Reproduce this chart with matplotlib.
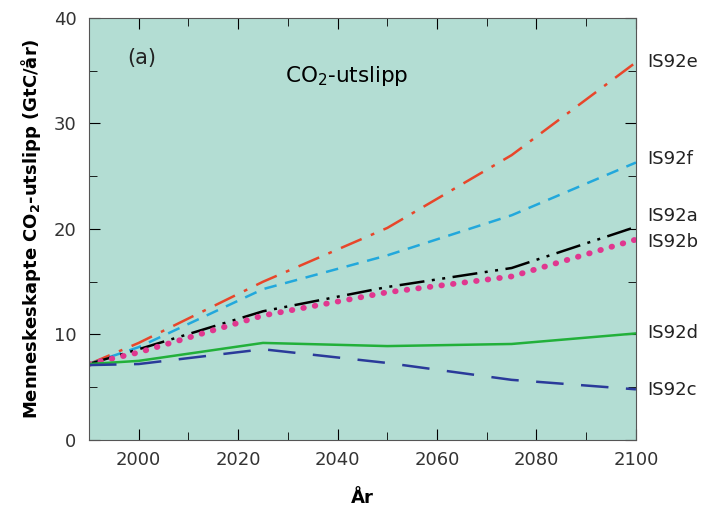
import matplotlib
matplotlib.use('Agg')
import matplotlib.pyplot as plt

plt.rcParams['font.family'] = ['DejaVu Sans']
plt.rcParams['mathtext.fontset'] = 'dejavusans'

# scenario data (GtC/år)
years = [1990, 2000, 2025, 2050, 2075, 2100]
is92e = [7.2, 9.2, 15.0, 20.1, 27.0, 35.8]
is92f = [7.2, 8.8, 14.3, 17.5, 21.3, 26.3]
is92a = [7.2, 8.6, 12.2, 14.5, 16.3, 20.2]
is92b = [7.2, 8.3, 11.8, 14.0, 15.5, 19.0]
is92d = [7.2, 7.5, 9.2, 8.9, 9.1, 10.1]
is92c = [7.1, 7.2, 8.6, 7.3, 5.7, 4.8]

names = ['IS92e', 'IS92f', 'IS92a', 'IS92b', 'IS92d', 'IS92c']
label_shift = [0.0, 0.3, 1.0, -0.2, 0.0, -0.1]

bg = '#b3ddd3'

fig = plt.figure(figsize=(7.03, 5.08), dpi=100)
ax = fig.add_axes([0.1266, 0.1339, 0.778, 0.8307])
ax.set_facecolor(bg)

ax.plot(years, is92e, color='#e8462a', lw=1.8, dashes=(9, 4, 1.5, 4))
ax.plot(years, is92f, color='#22a8dc', lw=1.8, dashes=(5, 3.5))
ax.plot(years, is92a, color='black', lw=1.8, dashes=(10, 3, 1.2, 3, 1.2, 3))
ax.plot(years, is92b, color='#e0378f', lw=4.2, dashes=(0.1, 1.9),
        dash_capstyle='round')
ax.plot(years, is92d, color='#22b03a', lw=1.8)
ax.plot(years, is92c, color='#2a3a9a', lw=1.8, dashes=(11, 7))

ends = [is92e[-1], is92f[-1], is92a[-1], is92b[-1], is92d[-1], is92c[-1]]
for name, v, s in zip(names, ends, label_shift):
    ax.text(2102.2, v + s, name, fontsize=13, color='#222222',
            va='center', ha='left', clip_on=False)

ax.set_xlim(1990, 2100)
ax.set_ylim(0, 40)
ax.set_xticks(range(2000, 2101, 20))
ax.set_xticks(range(2000, 2101, 10), minor=True)
ax.set_yticks(range(0, 41, 10))
ax.set_yticks(range(0, 41, 5), minor=True)
ax.tick_params(which='both', direction='in', top=True, right=True,
               labelsize=13, labelcolor='#333333')
ax.tick_params(axis='x', pad=8)
ax.tick_params(axis='y', pad=9)
ax.tick_params(which='major', length=8)
ax.tick_params(which='minor', length=6)
for sp in ax.spines.values():
    sp.set_color('#555555')

ax.text(2000.7, 36.2, '(a)', fontsize=15, color='#222222', ha='center',
        va='center')
ax.text(2041.9, 33.9, 'CO$_2$-utslipp', fontsize=15.5, color='black',
        ha='center')

ax.set_xlabel('År', fontsize=13, fontweight='bold', labelpad=14)
ax.set_ylabel('Menneskeskapte CO$_\\mathbf{2}$-utslipp (GtC/år)', fontsize=13,
              fontweight='bold', labelpad=8)

fig.savefig('out.png', dpi=100)
